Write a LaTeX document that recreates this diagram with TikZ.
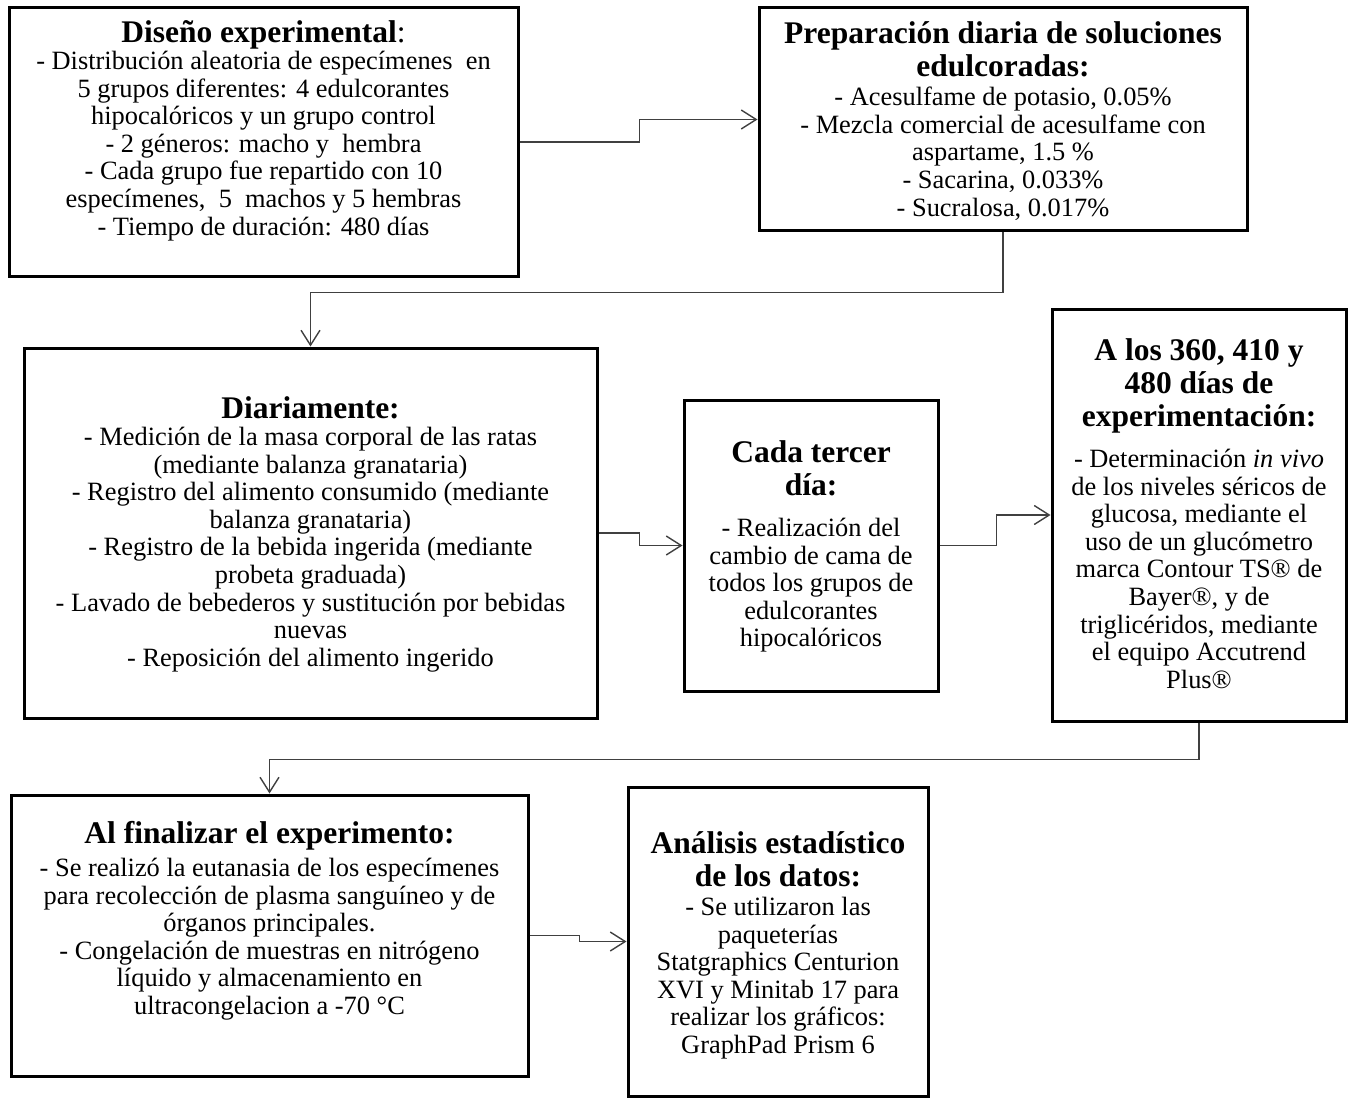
\documentclass[tikz,border=0pt]{standalone}
\usepackage{fontspec}
\setmainfont{Liberation Serif}
\usetikzlibrary{arrows.meta,calc}
\begin{document}
\begin{tikzpicture}[x=1pt,y=-1pt,
  box/.style={draw, line width=3pt, inner sep=0pt},
  ttl/.style={align=center, inner sep=0pt, anchor=north, font=\fontsize{31.5}{33}\selectfont\bfseries},
  bdy/.style={align=center, inner sep=0pt, anchor=north, font=\fontsize{26.4}{27.6}\selectfont},
  conn/.style={draw=black!75, line width=1.4pt, -{Straight Barb[length=15pt,width=19pt,line width=1.4pt]}}
]
\useasboundingbox (0,0) rectangle (1348,1099);
% boxes
\node[box, minimum width=509pt, minimum height=268pt] (b1) at (263.5,142) {};
\node[box, minimum width=488pt, minimum height=223pt] (b2) at (1003,119.5) {};
\node[box, minimum width=573pt, minimum height=370pt] (b3) at (310.5,533) {};
\node[box, minimum width=254pt, minimum height=291pt] (b4) at (811,545.5) {};
\node[box, minimum width=294pt, minimum height=412pt] (b5) at (1199,515) {};
\node[box, minimum width=517pt, minimum height=281pt] (b6) at (269.5,935.5) {};
\node[box, minimum width=300pt, minimum height=309pt] (b7) at (778,941.5) {};
% texts
\node[ttl] (t1) at (263.5,20) {Diseño experimental\textmd{:}};
\node[bdy] (x1) at (263.5,51) {- Distribución aleatoria de especímenes\ \ en\\5 grupos diferentes: 4 edulcorantes\\hipocalóricos y un grupo control\\- 2 géneros: macho y\ \ hembra\\- Cada grupo fue repartido con 10\\especímenes,\ \ 5\ \ machos y 5 hembras\\- Tiempo de duración: 480 días};
\node[ttl] (t2) at (1003,21) {Preparación diaria de soluciones\\edulcoradas:};
\node[bdy] (x2) at (1003,87) {- Acesulfame de potasio, 0.05\%\\- Mezcla comercial de acesulfame con\\aspartame, 1.5 \%\\- Sacarina, 0.033\%\\- Sucralosa, 0.017\%};
\node[ttl] (t3) at (310.5,396) {Diariamente:};
\node[bdy] (x3) at (310.5,427) {- Medición de la masa corporal de las ratas\\(mediante balanza granataria)\\- Registro del alimento consumido (mediante\\balanza granataria)\\- Registro de la bebida ingerida (mediante\\probeta graduada)\\- Lavado de bebederos y sustitución por bebidas\\nuevas\\- Reposición del alimento ingerido};
\node[ttl] (t4) at (811,440) {Cada tercer\\día:};
\node[bdy] (x4) at (811,518) {- Realización del\\cambio de cama de\\todos los grupos de\\edulcorantes\\hipocalóricos};
\node[ttl] (t5) at (1199,338) {A los 360, 410 y\\480 días de\\experimentación:};
\node[bdy] (x5) at (1199,449) {- Determinación \textit{in vivo}\\de los niveles séricos de\\glucosa, mediante el\\uso de un glucómetro\\marca Contour TS® de\\Bayer®, y de\\triglicéridos, mediante\\el equipo Accutrend\\Plus®};
\node[ttl] (t6) at (269.5,821) {Al finalizar el experimento:};
\node[bdy] (x6) at (269.5,858) {- Se realizó la eutanasia de los especímenes\\para recolección de plasma sanguíneo y de\\órganos principales.\\- Congelación de muestras en nitrógeno\\líquido y almacenamiento en\\ultracongelacion a -70 °C};
\node[ttl] (t7) at (778,831) {Análisis estadístico\\de los datos:};
\node[bdy] (x7) at (778,897) {- Se utilizaron las\\paqueterías\\Statgraphics Centurion\\XVI y Minitab 17 para\\realizar los gráficos:\\GraphPad Prism 6};
% connectors
\draw[conn] (b1.east) -- ($(b1.east)+(120,0)$) |- (b2.west);
\draw[conn] (b2.south) -- ($(b2.south)+(0,60)$) -| (b3.north);
\draw[conn] (b3.east) -- ($(b3.east)+(41,0)$) |- (b4.west);
\draw[conn] (b4.east) -- ($(b4.east)+(57,0)$) |- (b5.west);
\draw[conn] (b5.south) -- ($(b5.south)+(0,37)$) -| (b6.north);
\draw[conn] (b6.east) -- ($(b6.east)+(50,0)$) |- (b7.west);
\end{tikzpicture}
\end{document}
